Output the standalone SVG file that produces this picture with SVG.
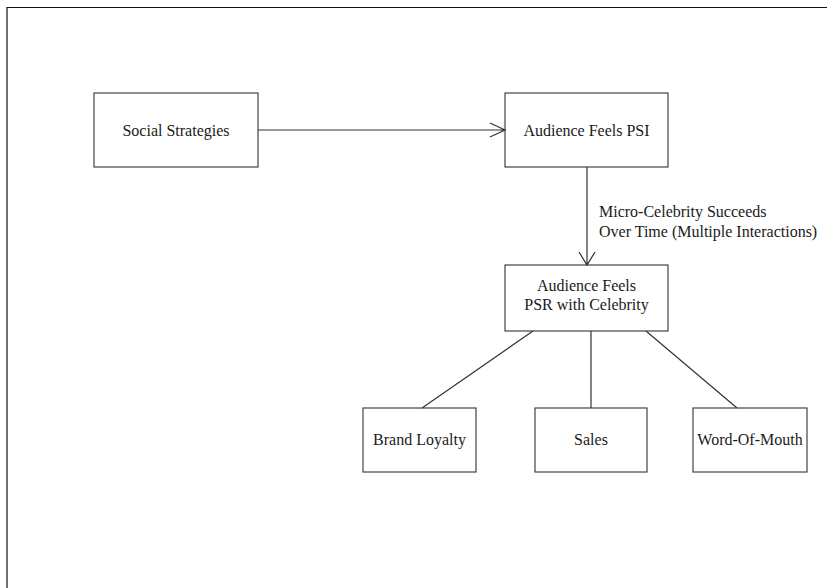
<svg xmlns="http://www.w3.org/2000/svg" width="827" height="588" viewBox="0 0 827 588">
<style>
.box{fill:#fff;stroke:#444;stroke-width:1.2}
.t{font-family:"Liberation Serif","Times New Roman",serif;font-size:16px;fill:#1a1a1a;text-anchor:middle}
.l{font-family:"Liberation Serif","Times New Roman",serif;font-size:16px;fill:#1a1a1a}
.c{stroke:#333;stroke-width:1.2;fill:none}
</style>
<rect x="0" y="0" width="827" height="588" fill="#fff"/>
<path d="M7,588 V7.5 H827" fill="none" stroke="#111" stroke-width="1.2"/>
<g id="social-strategies"><rect class="box" x="94" y="93" width="164" height="74"/><text class="t" x="176" y="135.500">Social Strategies</text></g>
<g id="audience-psi"><rect class="box" x="505" y="93" width="163" height="74"/><text class="t" x="586.500" y="135.500">Audience Feels PSI</text></g>
<g id="audience-psr"><rect class="box" x="505" y="265" width="163" height="66"/><text class="t" x="586.500" y="290.500">Audience Feels</text><text class="t" x="586.500" y="309.500">PSR with Celebrity</text></g>
<g id="brand-loyalty"><rect class="box" x="363" y="408" width="113" height="64"/><text class="t" x="419.500" y="444.500">Brand Loyalty</text></g>
<g id="sales"><rect class="box" x="535" y="408" width="112" height="64"/><text class="t" x="591" y="444.500">Sales</text></g>
<g id="word-of-mouth"><rect class="box" x="693" y="408" width="114" height="64"/><text class="t" x="750" y="444.500">Word-Of-Mouth</text></g>
<g id="connectors">
<path class="c" d="M258,130 H505 M490,123 L505,130 L490,137"/>
<path class="c" d="M587,167 V265 M579,252 L587,265 L595,252"/>
<text class="l" x="599" y="217">Micro-Celebrity Succeeds</text>
<text class="l" x="599" y="237">Over Time (Multiple Interactions)</text>
<path class="c" d="M533,331 L422,408 M591,331 V408 M646,331 L737,408"/>
</g>
</svg>
